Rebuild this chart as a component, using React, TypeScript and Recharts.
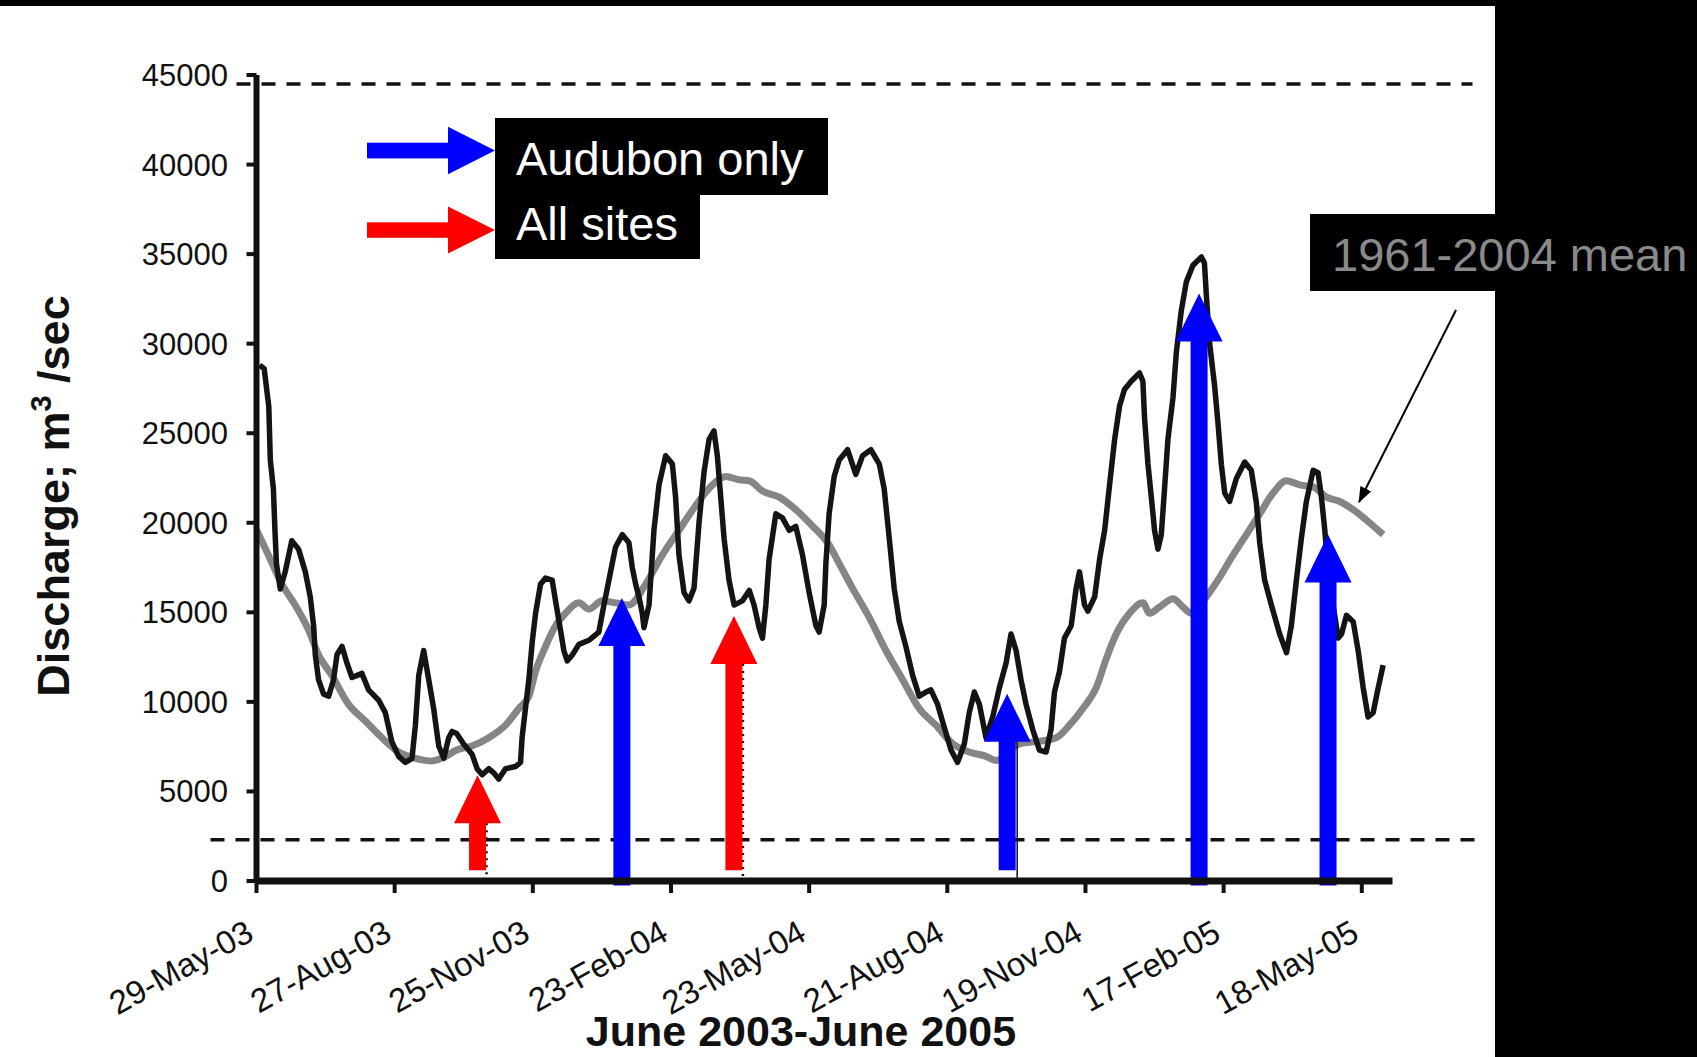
import React from "react";
import { LineChart, Line, XAxis, YAxis, ReferenceLine } from "recharts";

// x axis: days after 29-May-03, one tick every 90 days
const tickDays = [0, 90, 180, 270, 360, 450, 540, 630, 720];
const tickLabels = [
  "29-May-03",
  "27-Aug-03",
  "25-Nov-03",
  "23-Feb-04",
  "23-May-04",
  "21-Aug-04",
  "19-Nov-04",
  "17-Feb-05",
  "18-May-05",
];
const yTicks = [0, 5000, 10000, 15000, 20000, 25000, 30000, 35000, 40000, 45000];

// daily discharge, June 2003 - June 2005 (m3/sec)
const flowDays = [
  2, 5, 8, 9, 11, 12, 13, 15.5, 18.7, 23, 27.4, 31.8, 35, 37.2, 38.3, 40.4, 43.7, 47, 50.2, 52.4,
  55.7, 58.9, 62.2, 68.7, 73, 79.6, 83.9, 88.2, 92.6, 97, 101.3, 103.5, 105.7, 108.9, 112.2, 115.4,
  118.7, 122, 125.2, 127.4, 130.4, 134.8, 140.4, 143.7, 147, 151.3, 154.5, 157.8, 162.2, 168.7, 172,
  173, 175.2, 177.4, 179.6, 181.8, 185, 188.3, 192.6, 194.8, 198, 200.2, 202.4, 205.8, 210, 216.5,
  223, 226.3, 228.5, 231.7, 233.9, 238.3, 242.6, 244.8, 247, 249.1, 251.3, 252.4, 255.7, 258.9,
  262.2, 266.5, 270.9, 273, 275.2, 278.5, 281.7, 285, 288.3, 291.5, 294.8, 298, 300.2, 302.4, 304.6,
  307.8, 311.1, 316.5, 321, 324.1, 327.4, 329.6, 331.8, 333.9, 338.3, 342.6, 347, 351.3, 355.7, 360,
  364.4, 366.5, 369.8, 370.9, 373, 376.3, 379.6, 385, 390.4, 394.8, 400.2, 405.7, 408.9, 412.2,
  415.4, 418.7, 423, 427.4, 431.7, 436.1, 439.3, 443.7, 448, 452.4, 456.7, 461.1, 464.3, 467.6,
  470.9, 475.2, 479.6, 483.9, 488.3, 491.5, 494.8, 498, 501.3, 505.6, 510, 514.4, 517.6, 519.8,
  523.1, 526.3, 530.7, 533.9, 536.1, 539.4, 541.6, 546, 549.2, 552.5, 555.7, 559, 562.2, 565.4,
  569.8, 575.2, 577.4, 578.5, 580.7, 582.9, 585, 587.2, 589.4, 591.5, 593.7, 597, 599.2, 602.4,
  605.7, 610, 615.5, 617.5, 618.7, 620.9, 624.1, 626.3, 628.5, 630.7, 633.9, 638.3, 643.7, 648,
  651.3, 653.5, 656.7, 661.1, 666.5, 670.9, 674.1, 677.4, 680.6, 683.9, 688.3, 691.5, 693.7, 695.9,
  698.1, 701.3, 704.6, 706.8, 710, 714.4, 717.6, 720.9, 724.1, 727.4, 730.7, 733.9,
];
const flowValues = [
  28800, 28600, 26500, 23500, 21900, 19600, 17700, 16300, 17260, 19000, 18530, 17260, 15870, 14250,
  12630, 11240, 10430, 10320, 11240, 12630, 13100, 12170, 11360, 11590, 10670, 10090, 9400, 7770,
  6960, 6620, 6850, 8700, 11480, 12870, 11240, 9630, 7540, 6850, 8000, 8350, 8240, 7660, 7080, 6270,
  5930, 6270, 6040, 5690, 6270, 6390, 6620, 8000, 9630, 11240, 13330, 14950, 16570, 16910, 16800,
  15640, 14020, 12870, 12290, 12630, 13210, 13440, 13900, 15410, 16340, 17720, 18650, 19340, 18880,
  17490, 16570, 15870, 14950, 14140, 15410, 19580, 22120, 23740, 23280, 21430, 18190, 16100, 15640,
  16340, 20040, 22810, 24660, 25130, 23740, 21430, 19110, 16800, 15410, 15640, 16220, 15410, 14140,
  13560, 15410, 17960, 20500, 20270, 19580, 19800, 18190, 16100, 14250, 13900, 15410, 17720, 20500,
  22580, 23510, 24080, 22700, 23740, 24080, 23280, 21890, 19110, 16340, 14490, 13100, 11480, 10320,
  10550, 10670, 9860, 8580, 7310, 6620, 7660, 9400, 10550, 9860, 8000, 9160, 10790, 12170, 13790,
  12870, 11240, 9860, 8470, 7310, 7200, 8470, 10550, 11710, 13560, 14250, 16340, 17260, 15410, 15070,
  15870, 17960, 19580, 22120, 24660, 26520, 27440, 27900, 28360, 27900, 25820, 23280, 21430, 19580,
  18530, 19340, 21890, 24660, 26980, 29520, 31830, 33450, 34380, 34840, 34500, 32760, 29990, 27670,
  25590, 23270, 21660, 21190, 22470, 23390, 22930, 21130, 18880, 16800, 15410, 13790, 12750, 14250,
  16800, 19110, 21190, 22930, 22800, 21430, 19580, 17260, 15410, 13560, 13790, 14830, 14480, 12870,
  10790, 9160, 9400, 10790, 12050,
];

// 1961-2004 mean discharge
const meanDays = [
  0, 7.8, 16.5, 25.2, 33.9, 40.4, 49.1, 60, 70.9, 81.7, 92.6, 103.5, 114.3, 123, 130, 140.4, 151.3,
  162.2, 170.9, 177.4, 181.8, 188.3, 194.8, 201.3, 210, 216.5, 225.2, 233.9, 242.6, 253.5, 264.3,
  275.2, 286.1, 297, 305.7, 314.4, 321, 329.6, 340.5, 351.3, 362.2, 373, 379.6, 388.3, 399.1, 410,
  420.9, 431.7, 442.6, 453.5, 464.3, 475.2, 481.7, 497, 507.8, 520.9, 529.6, 538.3, 547, 553.5, 560,
  568.7, 577.4, 581.7, 588.3, 597, 603.5, 609, 618.7, 627.4, 636.1, 644.8, 653.5, 662.2, 670.9,
  679.6, 688.3, 697, 705.7, 714.4, 723, 733.9,
];
const meanValues = [
  19600, 18190, 16570, 15410, 14020, 12630, 11480, 9860, 8930, 8000, 7200, 6850, 6700, 6950, 7300,
  7540, 8000, 8700, 9630, 10320, 11710, 13100, 14250, 14950, 15530, 15180, 15640, 15530, 15410,
  16570, 18190, 19580, 20960, 22120, 22580, 22400, 22350, 21770, 21430, 20730, 19810, 18760, 17720,
  16340, 14720, 12870, 11240, 9630, 8700, 7660, 7200, 6960, 6730, 7660, 7780, 8000, 8700, 9630,
  10790, 12400, 13790, 14950, 15530, 14950, 15300, 15760, 15300, 14950, 15870, 16950, 18190, 19340,
  20500, 21660, 22350, 22120, 22000, 21430, 21190, 20730, 20150, 19340,
];

// sampling arrows: red = all sites, blue = Audubon only
const arrowDays = [144, 238, 311, 489, 614, 698];
const arrowBases = [600, -250, 600, 600, -250, -250];
const arrowTips = [5900, 15800, 14800, 10450, 32800, 19350];
const arrowColors = ["#ff0000", "#0000ff", "#ff0000", "#0000ff", "#0000ff", "#0000ff"];
const arrowGhosts = ["dot", "", "dot", "line", "", ""];

// dashed reference levels
const upperLevel = 44500;
const lowerLevel = 2300;

const flowData = flowDays.map((d, i) => ({ day: d, q: flowValues[i] }));
const meanData = meanDays.map((d, i) => ({ day: d, q: meanValues[i] }));

const FONT = "'Liberation Sans', Arial, sans-serif";

function DateTick(props: any) {
  const { x, y, payload } = props;
  const ax = x - 1;
  const ay = y + 46;
  const label = tickLabels[tickDays.indexOf(payload.value)];
  return (
    <text
      x={ax}
      y={ay}
      transform={`rotate(-29 ${ax} ${ay})`}
      textAnchor="end"
      fontSize={33}
      fontFamily={FONT}
      fill="#111"
    >
      {label}
    </text>
  );
}

const dashShape = (left: number, right: number) => (p: any) => (
  <line
    x1={p.x1 - left}
    y1={p.y1}
    x2={p.x2 + right}
    y2={p.y2}
    stroke="#111"
    strokeWidth={3.5}
    strokeDasharray="14 11"
  />
);

function Arrow(p: any) {
  const { x1, y1, y2, color, ghost } = p;
  const head = 48;
  const half = 23.5;
  const shaft = 17;
  return (
    <g>
      {ghost === "dot" && (
        <line x1={x1 + 9} y1={y2 + head} x2={x1 + 9} y2={y1 + 12} stroke="#111" strokeWidth={2.5} strokeDasharray="2 5" />
      )}
      {ghost === "line" && (
        <line x1={x1 + 10} y1={y2 + 30} x2={x1 + 10} y2={y1 + 12} stroke="#111" strokeWidth={1.5} />
      )}
      <rect x={x1 - shaft / 2} y={y2 + head - 1} width={shaft} height={y1 - y2 - head + 1} fill={color} />
      <polygon points={`${x1 - half},${y2 + head} ${x1},${y2} ${x1 + half},${y2 + head}`} fill={color} />
    </g>
  );
}

export default function App() {
  return (
    <div style={{ position: "relative", width: 1697, height: 1057, background: "#fff", overflow: "hidden" }}>
      <style>{"body{margin:0}"}</style>
      <LineChart
        width={1697}
        height={1057}
        margin={{ top: 75, right: 304.5, bottom: 0, left: 0 }}
        style={{ position: "absolute", left: 0, top: 0 }}
      >
        <XAxis
          dataKey="day"
          type="number"
          domain={[0, 740]}
          ticks={tickDays}
          allowDataOverflow
          height={176}
          tickSize={12}
          tickMargin={0}
          axisLine={{ stroke: "#111", strokeWidth: 7 }}
          tickLine={{ stroke: "#111", strokeWidth: 4 }}
          tick={<DateTick />}
          interval={0}
        />
        <YAxis
          type="number"
          domain={[0, 45000]}
          ticks={yTicks}
          width={256.5}
          tickSize={10}
          tickMargin={18.5}
          axisLine={{ stroke: "#111", strokeWidth: 6 }}
          tickLine={{ stroke: "#111", strokeWidth: 4 }}
          tick={{ fill: "#111", fontSize: 31, fontFamily: FONT }}
          interval={0}
        />
        <ReferenceLine y={upperLevel} shape={dashShape(20, 80)} />
        <ReferenceLine y={lowerLevel} shape={dashShape(46, 88)} />
        <Line
          data={meanData}
          dataKey="q"
          type="monotone"
          stroke="#858585"
          strokeWidth={7}
          dot={false}
          isAnimationActive={false}
        />
        <Line
          data={flowData}
          dataKey="q"
          type="linear"
          stroke="#141414"
          strokeWidth={5.5}
          strokeLinejoin="round"
          dot={false}
          isAnimationActive={false}
        />
        {arrowDays.map((d, i) => (
          <ReferenceLine
            key={i}
            ifOverflow="visible"
            segment={[
              { x: d, y: arrowBases[i] },
              { x: d, y: arrowTips[i] },
            ]}
            shape={(p: any) => <Arrow {...p} color={arrowColors[i]} ghost={arrowGhosts[i]} />}
          />
        ))}
      </LineChart>

      <svg
        width={1697}
        height={1057}
        style={{ position: "absolute", left: 0, top: 0, pointerEvents: "none" }}
        fontFamily={FONT}
      >
        <defs>
          <marker id="tip" markerWidth="16" markerHeight="12" refX="15" refY="6" orient="auto" markerUnits="userSpaceOnUse">
            <path d="M0,0 L16,6 L0,12 Z" fill="#000" />
          </marker>
        </defs>
        <rect x={0} y={0} width={1697} height={6} fill="#000" />
        <rect x={1495} y={0} width={202} height={1057} fill="#000" />

        {/* legend arrows */}
        <rect x={367} y={142.7} width={82} height={15.7} fill="#0000ff" />
        <polygon points="448,126.7 495,150.5 448,174.3" fill="#0000ff" />
        <rect x={367} y={222.3} width={82} height={15.5} fill="#ff0000" />
        <polygon points="448,206.5 495,230 448,253.5" fill="#ff0000" />
        <rect x={495} y={118} width={333} height={77} fill="#000" />
        <rect x={495} y={194} width={205} height={65} fill="#000" />
        <text x={516} y={175} fontSize={47} fill="#fff">Audubon only</text>
        <text x={516} y={240} fontSize={47} fill="#fff">All sites</text>

        {/* mean label */}
        <rect x={1310} y={214} width={387} height={77} fill="#000" />
        <text x={1332} y={271} fontSize={47} fill="#8a8a8a">1961-2004 mean</text>
        <line x1={1456} y1={310} x2={1359} y2={502} stroke="#000" strokeWidth={2} markerEnd="url(#tip)" />

        {/* axis titles */}
        <text
          x={69}
          y={496}
          transform="rotate(-90 69 496)"
          textAnchor="middle"
          fontSize={45}
          fontWeight="bold"
          fill="#111"
        >
          Discharge; m<tspan dy={-18} fontSize={29}>3</tspan>
          <tspan dy={18}> /sec</tspan>
        </text>
        <text x={801} y={1046} textAnchor="middle" fontSize={43} fontWeight="bold" fill="#111">
          June 2003-June 2005
        </text>
      </svg>
    </div>
  );
}
